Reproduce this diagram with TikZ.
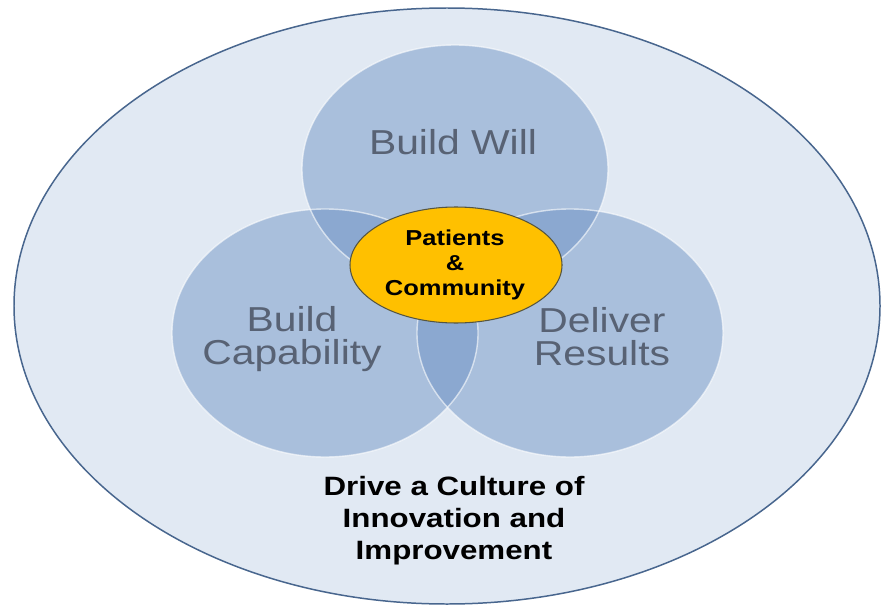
\documentclass[tikz,border=0pt]{standalone}
\usepackage{fontspec}
\setmainfont{Liberation Sans}
\definecolor{fond}{RGB}{225,233,243}
\definecolor{bordfond}{RGB}{72,102,142}
\definecolor{bleucercle}{RGB}{104,143,194}
\definecolor{jaune}{RGB}{255,192,0}
\definecolor{grisjaune}{RGB}{85,85,65}
\definecolor{gristexte}{RGB}{88,98,116}
\begin{document}
\begin{tikzpicture}[x=0.02cm,y=-0.02cm,
	cercle/.style={fill=bleucercle,fill opacity=0.46},
	bord/.style={draw=white,draw opacity=0.6,line width=0.8pt},
	titre/.style={text=gristexte,align=center,xscale=1.18,font=\fontsize{19.7}{18.8}\selectfont},
	centre/.style={align=center,xscale=1.18,font=\bfseries\fontsize{12.3}{14.2}\selectfont},
	bas/.style={align=center,xscale=1.18,font=\bfseries\fontsize{15.1}{18.2}\selectfont}]
	\useasboundingbox (0,0) rectangle (885,608);
	\draw[fill=fond,draw=bordfond,line width=0.85pt] (447,306) ellipse [x radius=433,y radius=298]; % la grande ellipse
	\fill[cercle] (455,169) ellipse [x radius=153,y radius=124]; % en haut
	\fill[cercle] (325,333) ellipse [x radius=153,y radius=124]; % a gauche
	\fill[cercle] (570,333) ellipse [x radius=153,y radius=124]; % a droite
	\draw[bord] (455,169) ellipse [x radius=153,y radius=124];
	\draw[bord] (325,333) ellipse [x radius=153,y radius=124];
	\draw[bord] (570,333) ellipse [x radius=153,y radius=124];
	\draw[fill=jaune,draw=grisjaune,line width=0.6pt] (456,265) ellipse [x radius=106,y radius=58]; % le centre
	\node[titre,anchor=base] (will) at (453,154) {Build Will};
	\node[titre] (capa) at (292,339) {Build\\Capability};
	\node[titre] (resu) at (602,337) {Deliver\\Results};
	\node[centre] (pat) at (455,265) {Patients\\\&\\Community};
	\node[bas] (cult) at (454,521) {Drive a Culture of\\Innovation and\\Improvement};
\end{tikzpicture}
\end{document}
